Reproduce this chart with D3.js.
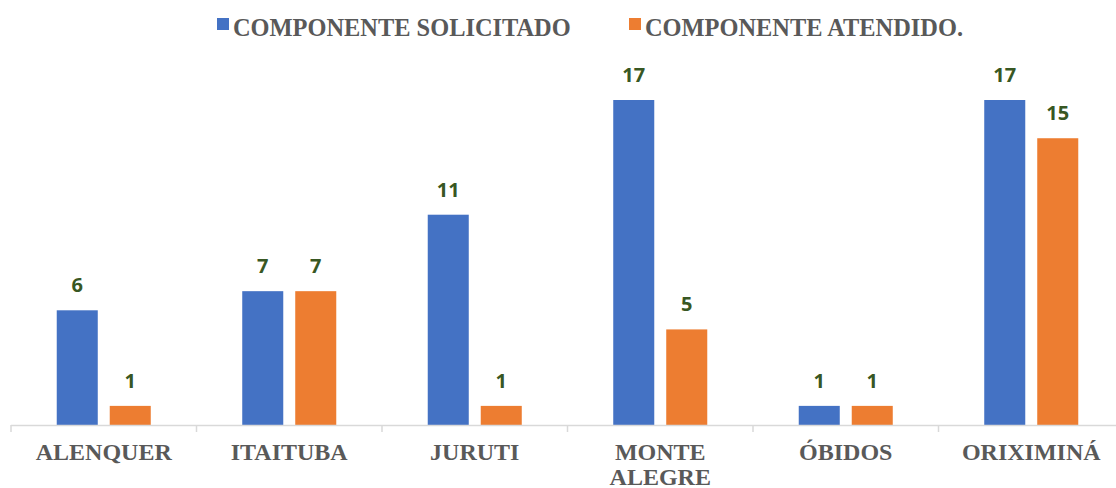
<!DOCTYPE html>
<html>
<head>
<meta charset="utf-8">
<script src="https://cdn.jsdelivr.net/npm/d3@7"></script>
<style>
  body { margin: 0; background: #fff; }
  svg text { font-family: "Liberation Serif", "Times New Roman", serif; }
</style>
</head>
<body>
<div id="chart"></div>
<script>
const municipios = ["ALENQUER", "ITAITUBA", "JURUTI", "MONTE ALEGRE", "ÓBIDOS", "ORIXIMINÁ"];
const solicitado = [6, 7, 11, 17, 1, 17];
const atendido = [1, 7, 1, 5, 1, 15];
const seriesNames = ["COMPONENTE SOLICITADO", "COMPONENTE ATENDIDO."];
const seriesColors = ["#4472C4", "#ED7D31"];

const width = 1116;
const height = 488;
const baseY = 425;

const svg = d3.select("#chart")
  .append("svg")
  .attr("width", width)
  .attr("height", height);

const x = d3.scaleBand().domain(municipios).range([11, 1124]).padding(0);
const xSub = d3.scaleBand().domain([0, 1]).range([0, x.bandwidth()])
  .paddingInner(0.226).paddingOuter(0.863);
const y = d3.scaleLinear().domain([0, 17]).range([baseY, 100]);

const rows = municipios.map((m, i) => ({ m, vals: [solicitado[i], atendido[i]] }));

const groups = svg.selectAll("g.cat")
  .data(rows)
  .enter()
  .append("g")
  .attr("class", "cat")
  .attr("transform", (d) => `translate(${x(d.m)},0)`);

groups.selectAll("rect")
  .data((d) => d.vals.map((v, k) => ({ v, k })))
  .enter()
  .append("rect")
  .attr("x", (d) => xSub(d.k))
  .attr("width", xSub.bandwidth())
  .attr("y", (d) => y(d.v))
  .attr("height", (d) => baseY - y(d.v))
  .attr("fill", (d) => seriesColors[d.k]);

groups.selectAll("text.val")
  .data((d) => d.vals.map((v, k) => ({ v, k })))
  .enter()
  .append("text")
  .attr("class", "val")
  .attr("x", (d) => xSub(d.k) + xSub.bandwidth() / 2)
  .attr("y", (d) => y(d.v) - 18)
  .attr("text-anchor", "middle")
  .style("font-family", "'Open Sans', 'Liberation Sans', sans-serif")
  .style("font-weight", "bold")
  .style("font-size", "20px")
  .attr("fill", "#385723")
  .text((d) => d.v);

// axis line + ticks
svg.append("line")
  .attr("x1", 11).attr("x2", width)
  .attr("y1", baseY + 0.5).attr("y2", baseY + 0.5)
  .attr("stroke", "#d9d9d9").attr("stroke-width", 1.5);

svg.selectAll("line.tick")
  .data(municipios)
  .enter()
  .append("line")
  .attr("class", "tick")
  .attr("x1", (d) => x(d))
  .attr("x2", (d) => x(d))
  .attr("y1", baseY).attr("y2", baseY + 7)
  .attr("stroke", "#d9d9d9").attr("stroke-width", 1.5);

// category labels
const labels = svg.selectAll("text.cat")
  .data(municipios)
  .enter()
  .append("text")
  .attr("class", "cat")
  .attr("text-anchor", "middle")
  .attr("fill", "#595959")
  .style("font-weight", "bold")
  .style("font-size", "24px")
  .attr("y", 460);

labels.each(function (d) {
  const words = d.length > 10 ? d.split(" ") : [d];
  const t = d3.select(this);
  words.forEach((w, i) => {
    t.append("tspan")
      .attr("x", x(d) + x.bandwidth() / 2)
      .attr("dy", i === 0 ? 0 : 25)
      .text(w);
  });
});

// legend
const legendX = [217, 629];
const legend = svg.selectAll("g.legend")
  .data(seriesNames)
  .enter()
  .append("g")
  .attr("class", "legend")
  .attr("transform", (d, i) => `translate(${legendX[i]},0)`);

legend.append("rect")
  .attr("x", 0).attr("y", 18)
  .attr("width", 12).attr("height", 12)
  .attr("fill", (d, i) => seriesColors[i]);

legend.append("text")
  .attr("x", 16).attr("y", 36)
  .attr("fill", "#595959")
  .style("font-weight", "bold")
  .style("font-size", "24.4px")
  .text((d) => d);
</script>
</body>
</html>
